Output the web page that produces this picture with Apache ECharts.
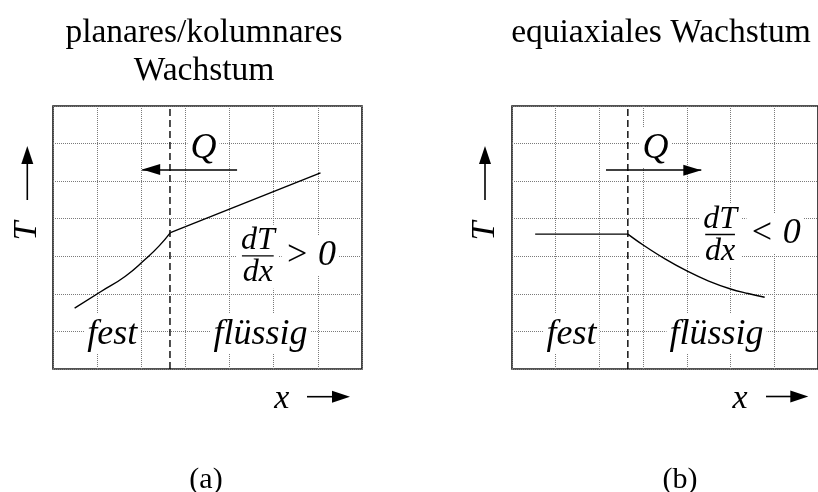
<!DOCTYPE html>
<html><head><meta charset="utf-8">
<script src="https://cdn.jsdelivr.net/npm/echarts@6/dist/echarts.min.js"></script>
<style>html,body{margin:0;padding:0;background:#fff}#c{width:818px;height:492px}</style>
</head><body><div id="c"></div>
<script>
// Temperature profiles across the solid/liquid front for two growth modes.
const axisRange = [0, 7];
const frontX = 2.65;                       // position of the solidification front
const curveA = [[0.49,1.62],[1.07,2.05],[1.64,2.47],[2.09,2.92],[2.4,3.27],[2.66,3.63],[6.06,5.22]];
const curveB = [[0.53,3.59],[2.65,3.59],[3.0,3.30],[3.5,2.93],[4.0,2.61],[4.5,2.34],[5.0,2.13],[5.4,2.01],[5.78,1.91]];
const heatFlowA = [[4.17,5.31],[2.02,5.31]];
const heatFlowB = [[2.15,5.29],[4.33,5.29]];
const panelTitles = ['planares/kolumnares\nWachstum', 'equiaxiales Wachstum'];
const panelTags = ['(a)', '(b)'];
const textA = [[3.41,5.88,'Q'],[1.34,0.93,'fest'],[4.70,0.93,'flüssig']];
const textB = [[3.28,5.88,'Q'],[1.36,0.93,'fest'],[4.68,0.93,'flüssig']];
const relA = [5.83,3.03,'> 0'], relB = [6.02,3.60,'< 0'];
const fracA = [4.64,2.99], fracBarA = [[4.28,3.01],[5.00,3.01]];
const fracB = [4.76,3.56], fracBarB = [[4.42,3.58],[5.10,3.58]];

const SERIF = '"Liberation Serif","Times New Roman",serif';
const chart = echarts.init(document.getElementById('c'), null, {renderer: 'canvas'});

function axis(i) {
  return {
    type: 'value', gridIndex: i, min: axisRange[0], max: axisRange[1], interval: 1,
    axisLine: {show: false}, axisTick: {show: false}, axisLabel: {show: false},
    splitLine: {show: true, lineStyle: {color: '#7a7a7a', width: 1, type: [1, 1]}}
  };
}

function textSeries(i, items, size, pad) {
  return {
    type: 'scatter', xAxisIndex: i, yAxisIndex: i, symbolSize: 0, z: 3, silent: true,
    itemStyle: {opacity: 1},
    data: items.map(t => ({value: [t[0], t[1]], name: t[2]})),
    label: {show: true, position: 'inside', formatter: p => p.name, opacity: 1,
      fontFamily: SERIF, fontStyle: 'italic', fontSize: size, color: '#000',
      backgroundColor: '#fff', padding: pad, lineHeight: size}
  };
}

function profile(i, pts, smooth) {
  return {
    type: 'line', xAxisIndex: i, yAxisIndex: i, data: pts, symbol: 'none', z: 5,
    smooth, silent: true, lineStyle: {color: '#000', width: 1.4}
  };
}

function panelSeries(i, curve, flow, texts, rel, frac, bar, smoothSide) {
  const s = [];
  // text boxes with white backing so the grid stays out of the lettering
  s.push(textSeries(i, texts, 36, [2, 3]));
  s.push(textSeries(i, [rel], 36, [2, 3]));
  s.push(textSeries(i, [[frac[0], frac[1], 'dT\ndx']], 32, [0, 4]));
  s.push({
    type: 'line', xAxisIndex: i, yAxisIndex: i, data: bar, symbol: 'none', z: 5, silent: true,
    lineStyle: {color: '#000', width: 1.3}
  });
  // temperature profile: solid side and liquid side meet with a kink at the front
  const solid = curve.filter(p => p[0] <= frontX + 0.02);
  const liquid = curve.filter(p => p[0] >= frontX - 0.02);
  s.push(profile(i, solid, smoothSide === 'solid' ? 0.5 : 0));
  s.push(profile(i, liquid, smoothSide === 'liquid' ? 0.4 : 0));
  // solidification front
  s.push({
    type: 'line', xAxisIndex: i, yAxisIndex: i, data: [[frontX, axisRange[0]], [frontX, axisRange[1]]],
    symbol: 'none', z: 6, silent: true,
    lineStyle: {color: '#000', width: 1.4, type: [7, 4]}
  });
  // heat flow direction; the head is pulled back so its tip sits on the end point
  s.push({
    type: 'line', xAxisIndex: i, yAxisIndex: i, data: [], z: 6, silent: true,
    markLine: {
      silent: true, symbol: ['none', 'triangle'], symbolSize: [11, 18], symbolOffset: [0, [0, 9]],
      label: {show: false}, lineStyle: {color: '#000', width: 1.6, type: 'solid'},
      emphasis: {disabled: true},
      data: [[{coord: flow[0]}, {coord: flow[1]}]]
    }
  });
  return s;
}

function arrow(x1, y1, x2, y2) {
  // straight shaft with a filled triangular head at (x2, y2)
  const len = 18, half = 6;
  const dx = x2 - x1, dy = y2 - y1, d = Math.hypot(dx, dy);
  const ux = dx / d, uy = dy / d;
  const bx = x2 - ux * len, by = y2 - uy * len;
  return [
    {type: 'line', shape: {x1, y1, x2: bx + ux * 2, y2: by + uy * 2}, style: {stroke: '#000', lineWidth: 1.6}},
    {type: 'polygon', shape: {points: [[x2, y2], [bx - uy * half, by + ux * half], [bx + uy * half, by - ux * half]]},
      style: {fill: '#000'}}
  ];
}

function italic(text, x, y, rot) {
  return {type: 'text', x, y, rotation: rot || 0,
    style: {text, fontFamily: SERIF, fontStyle: 'italic', fontSize: 34, fill: '#000',
      align: 'center', verticalAlign: 'middle'}};
}

const titleFont = {fontFamily: SERIF, fontWeight: 'normal', fontSize: 33.5, color: '#000', lineHeight: 38};
const tagFont = {fontFamily: SERIF, fontWeight: 'normal', fontSize: 30, color: '#000'};
chart.setOption({
  animation: false,
  backgroundColor: '#fff',
  title: [
    {text: panelTitles[0], left: 199, top: 9, textAlign: 'center', textStyle: titleFont},
    {text: panelTitles[1], left: 656, top: 9, textAlign: 'center', textStyle: titleFont},
    {text: panelTags[0], left: 201, top: 460, textAlign: 'center', textStyle: tagFont},
    {text: panelTags[1], left: 675, top: 460, textAlign: 'center', textStyle: tagFont}
  ],
  grid: [
    {left: 53, top: 106, width: 309, height: 263, show: true, borderColor: '#1a1a1a', borderWidth: 1.6, backgroundColor: 'transparent'},
    {left: 512, top: 106, width: 309, height: 263, show: true, borderColor: '#1a1a1a', borderWidth: 1.6, backgroundColor: 'transparent'}
  ],
  xAxis: [axis(0), axis(1)],
  yAxis: [axis(0), axis(1)],
  series: [
    ...panelSeries(0, curveA, heatFlowA, textA, relA, fracA, fracBarA, 'solid'),
    ...panelSeries(1, curveB, heatFlowB, textB, relB, fracB, fracBarB, 'liquid')
  ],
  graphic: [
    ...arrow(27.3, 200, 27.3, 146), italic('T', 27, 231, Math.PI / 2),
    ...arrow(485, 200, 485, 146), italic('T', 485, 231, Math.PI / 2),
    ...arrow(307, 396.7, 350, 396.7), italic('x', 281.7, 398.7),
    ...arrow(766, 396.5, 808.3, 396.5), italic('x', 740, 398.7)
  ]
});
</script></body></html>
